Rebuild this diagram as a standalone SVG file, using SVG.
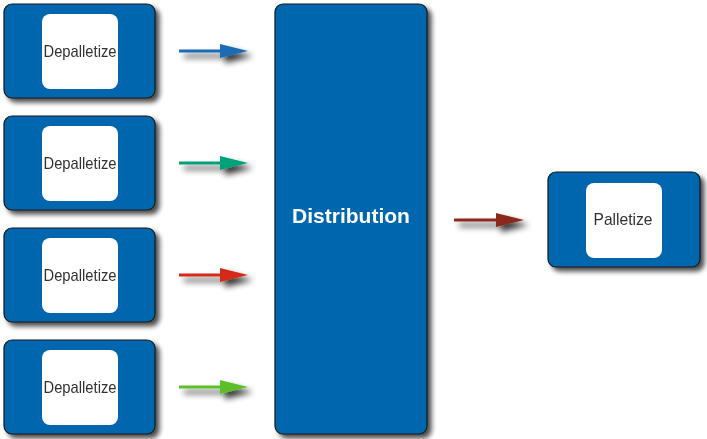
<svg xmlns="http://www.w3.org/2000/svg" width="707" height="439" viewBox="0 0 707 439">
<defs>
<filter id="sh" x="-20%" y="-20%" width="140%" height="140%">
<feGaussianBlur in="SourceAlpha" stdDeviation="2.5"/>
<feOffset dx="4" dy="4" result="b"/>
<feComponentTransfer in="b" result="c"><feFuncA type="linear" slope="0.7"/></feComponentTransfer>
<feMerge><feMergeNode in="c"/><feMergeNode in="SourceGraphic"/></feMerge>
</filter>
<filter id="ash" x="-30%" y="-100%" width="160%" height="300%">
<feGaussianBlur in="SourceAlpha" stdDeviation="3"/>
<feOffset dx="5" dy="5" result="b"/>
<feComponentTransfer in="b" result="c"><feFuncA type="linear" slope="0.8"/></feComponentTransfer>
<feMerge><feMergeNode in="c"/><feMergeNode in="SourceGraphic"/></feMerge>
</filter>
</defs>
<style>
.box{fill:#0066ae;stroke:#1a1a1a;stroke-width:1.2}
.inner{fill:#ffffff}
.lbl{font-family:"Liberation Sans",Arial,sans-serif;font-size:17px;fill:#333333;text-anchor:middle}
.big{font-family:"Liberation Sans",Arial,sans-serif;font-size:21px;font-weight:bold;fill:#ffffff;text-anchor:middle}
.ln{stroke-width:3;fill:none}
</style>
<rect width="707" height="439" fill="#ffffff"/>
<g id="dep1" filter="url(#sh)">
<rect class="box" x="4" y="4" width="151" height="94" rx="8"/>
<rect class="inner" x="42" y="14" width="76" height="75" rx="8"/>
<text class="lbl" x="80" y="57" textLength="73" lengthAdjust="spacingAndGlyphs">Depalletize</text>
</g>
<g id="dep2" filter="url(#sh)">
<rect class="box" x="4" y="116" width="151" height="94" rx="8"/>
<rect class="inner" x="42" y="126" width="76" height="75" rx="8"/>
<text class="lbl" x="80" y="169" textLength="73" lengthAdjust="spacingAndGlyphs">Depalletize</text>
</g>
<g id="dep3" filter="url(#sh)">
<rect class="box" x="4" y="228" width="151" height="94" rx="8"/>
<rect class="inner" x="42" y="238" width="76" height="75" rx="8"/>
<text class="lbl" x="80" y="281" textLength="73" lengthAdjust="spacingAndGlyphs">Depalletize</text>
</g>
<g id="dep4" filter="url(#sh)">
<rect class="box" x="4" y="340" width="151" height="94" rx="8"/>
<rect class="inner" x="42" y="350" width="76" height="75" rx="8"/>
<text class="lbl" x="80" y="393" textLength="73" lengthAdjust="spacingAndGlyphs">Depalletize</text>
</g>
<g id="distribution" filter="url(#sh)">
<rect class="box" x="275" y="4" width="152" height="430" rx="8"/>
<text class="big" x="351" y="223">Distribution</text>
</g>
<g id="palletize" filter="url(#sh)">
<rect class="box" x="548" y="172" width="152" height="95" rx="8"/>
<rect class="inner" x="586" y="183" width="76" height="75" rx="8"/>
<text class="lbl" x="623" y="225" textLength="59" lengthAdjust="spacingAndGlyphs">Palletize</text>
</g>
<g id="connectors">
<g filter="url(#ash)">
<line class="ln" x1="179" y1="51" x2="222" y2="51" stroke="#1a6cb5"/>
<polygon points="220,44 248,51 220,58" fill="#1a6cb5"/>
</g>
<g filter="url(#ash)">
<line class="ln" x1="179" y1="163" x2="222" y2="163" stroke="#00a07a"/>
<polygon points="220,156 248,163 220,170" fill="#00a07a"/>
</g>
<g filter="url(#ash)">
<line class="ln" x1="179" y1="275" x2="222" y2="275" stroke="#d42a1a"/>
<polygon points="220,268 248,275 220,282" fill="#d42a1a"/>
</g>
<g filter="url(#ash)">
<line class="ln" x1="179" y1="387" x2="222" y2="387" stroke="#5cbf2a"/>
<polygon points="220,380 248,387 220,394" fill="#5cbf2a"/>
</g>
<g filter="url(#ash)">
<line class="ln" x1="454" y1="220" x2="498" y2="220" stroke="#8b2a1a"/>
<polygon points="496,213 524,220 496,227" fill="#8b2a1a"/>
</g>
</g>
</svg>
